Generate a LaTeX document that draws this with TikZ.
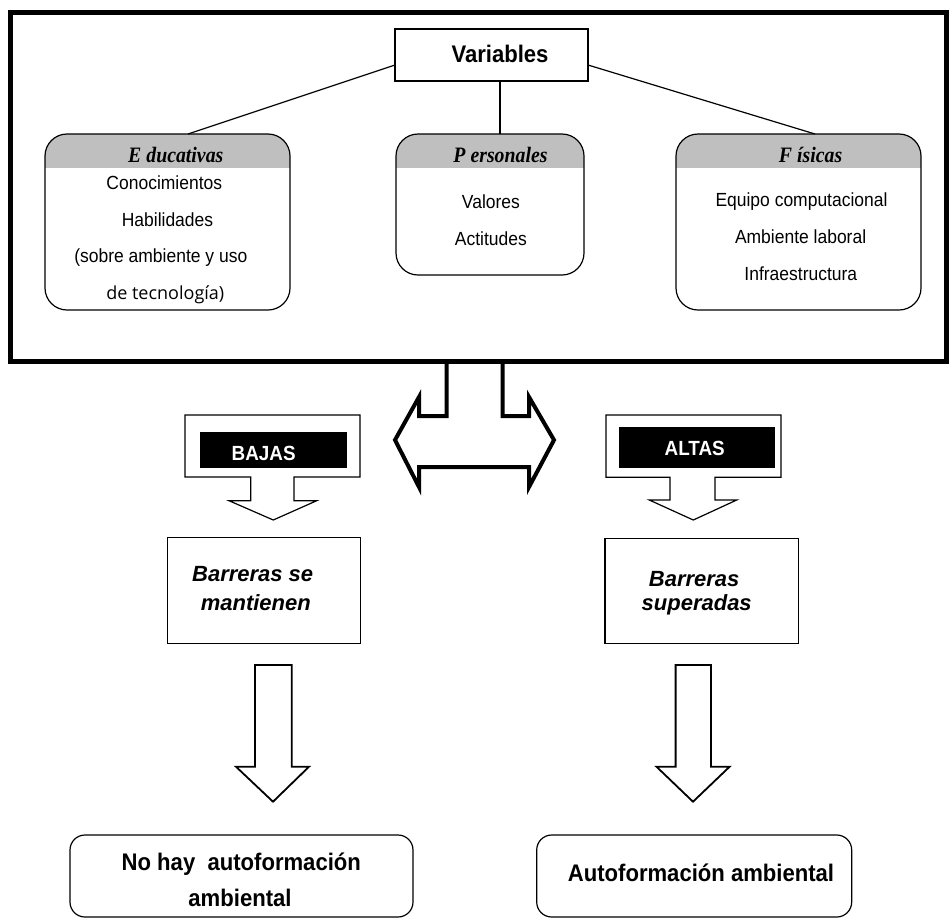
\documentclass[tikz,border=0pt]{standalone}
\usepackage{fontspec}
\setmainfont{Liberation Sans}
\newfontfamily\narrowsans[FakeStretch=0.92]{Liberation Sans}
\newfontfamily\headserif[FakeStretch=0.9]{Liberation Serif}
\newfontfamily\opensans{Open Sans}
\begin{document}
\begin{tikzpicture}[x=1pt,y=-1pt,
  thin line/.style={line width=1.2pt},
  bodytxt/.style={anchor=base,inner sep=0pt,font=\narrowsans\fontsize{19}{19}\selectfont},
  headtxt/.style={anchor=base,inner sep=0pt,font=\headserif\bfseries\itshape\fontsize{22}{22}\selectfont},
  bigtxt/.style={anchor=base,inner sep=0pt,font=\narrowsans\bfseries\fontsize{24}{24}\selectfont},
  tagtxt/.style={anchor=base,inner sep=0pt,text=white,font=\narrowsans\bfseries\fontsize{20.5}{20.5}\selectfont},
  bartxt/.style={anchor=base,inner sep=0pt,font=\bfseries\itshape\fontsize{22}{22}\selectfont},
  hollow/.style={draw,line width=1.8pt,line join=miter,fill=white},
]
\useasboundingbox (0,0) rectangle (950,919);

% outer frame
\draw[line width=5pt] (10.5,12) rectangle (946,361);

% title box
\node[draw,thin line,minimum width=193pt,minimum height=52pt,inner sep=0pt] (var) at (491.5,55) {};
\node[bigtxt] at (500,62) {Variables};

% category panels with grey header band
\newcommand\catpanel[6]{%
  \coordinate (#1-nw) at (#2,#3);
  \coordinate (#1-se) at (#4,#5);
  \begin{scope}
    \clip[rounded corners=22pt] (#1-nw) rectangle (#1-se);
    \fill[black!25] (#1-nw) rectangle (#4,168);
  \end{scope}
  \draw[thin line,rounded corners=22pt] (#1-nw) rectangle (#1-se);
  \coordinate (#1-top) at (#6,#3);
}
\catpanel{edu}{45}{134}{290}{310}{188}
\catpanel{per}{396}{134}{584}{275}{500}
\catpanel{fis}{676}{134}{921}{310}{815}

% connectors from the title box
\coordinate (var-l) at (395,65);
\coordinate (var-m) at (500,81);
\coordinate (var-r) at (588,65);
\draw[thin line] (var-l) -- (edu-top);
\draw[thin line] (var-m) -- (per-top);
\draw[thin line] (var-r) -- (fis-top);

% panel headers
\node[headtxt] at (175.8,162) {E ducativas};
\node[headtxt] at (500.5,162) {P ersonales};
\node[headtxt] at (810.6,162) {F ísicas};

% panel contents
\node[bodytxt] at (164.3,189.5) {Conocimientos};
\node[bodytxt] at (167.5,226.5) {Habilidades};
\node[bodytxt] at (160.8,262.5) {(sobre ambiente y uso};
\node[bodytxt,font=\opensans\fontsize{18}{18}\selectfont] at (165.3,299) {de tecnología)};

\node[bodytxt] at (490.9,208) {Valores};
\node[bodytxt] at (490.9,245) {Actitudes};

\node[bodytxt] at (801.5,206.5) {Equipo computacional};
\node[bodytxt] at (800.6,243.8) {Ambiente laboral};
\node[bodytxt] at (800.8,280.5) {Infraestructura};

% two-way arrow hanging from the frame
\draw[line width=4pt,line join=miter]
  (446.7,361) -- (446.7,416) -- (419,416) -- (419,397) -- (395,440) -- (419,487)
  -- (419,467) -- (529,467) -- (529,487) -- (554,440) -- (529,397) -- (529,416)
  -- (502.5,416) -- (502.5,361);

% tag callouts
\draw[thin line,line join=miter] (185,415) -- (360,415) -- (360,477) -- (294,477) -- (294,500.7)
  -- (316.7,500.7) -- (273.3,520) -- (229,500.7) -- (250.7,500.7) -- (250.7,477) -- (185,477) -- cycle;
\fill (200,432.3) rectangle (346.7,467.7);
\node[tagtxt] (bajas) at (263.7,460.7) {BAJAS};

\draw[thin line,line join=miter] (606,415) -- (781,415) -- (781,477.3) -- (715,477.3) -- (715,500)
  -- (736.7,500) -- (693.3,520) -- (649.3,500) -- (670,500) -- (670,477.3) -- (606,477.3) -- cycle;
\fill (619.3,426.7) rectangle (775,468.3);
\node[tagtxt] (altas) at (694.7,455) {ALTAS};

% barrier boxes
\draw[thin line] (167.3,537.7) rectangle (360.7,643.3);
\node[bartxt] at (252.7,581.7) {Barreras se};
\node[bartxt] at (255.8,610) {mantienen};

\draw[thin line] (605,538.3) rectangle (798.3,643.3);
\node[bartxt] at (694.2,586) {Barreras};
\node[bartxt] at (696.7,610) {superadas};

% large downward arrows
\draw[hollow] (255,665) -- (291.7,665) -- (291.7,766.7) -- (309,766.7) -- (273,801.7)
  -- (236,766.7) -- (255,766.7) -- cycle;
\draw[hollow] (675.6,665) -- (711,665) -- (711,766.7) -- (729.6,766.7) -- (693,801.7)
  -- (656.5,766.7) -- (675.6,766.7) -- cycle;

% outcome boxes
\draw[thin line,rounded corners=15pt] (70,835) rectangle (413,917);
\node[bigtxt] at (241.3,870) {No hay\ \ autoformación};
\node[bigtxt] at (240,906.7) {ambiental};

\draw[thin line,rounded corners=15pt] (536.7,835) rectangle (851.7,917);
\node[bigtxt] at (701,881.7) {Autoformación ambiental};
\end{tikzpicture}
\end{document}
